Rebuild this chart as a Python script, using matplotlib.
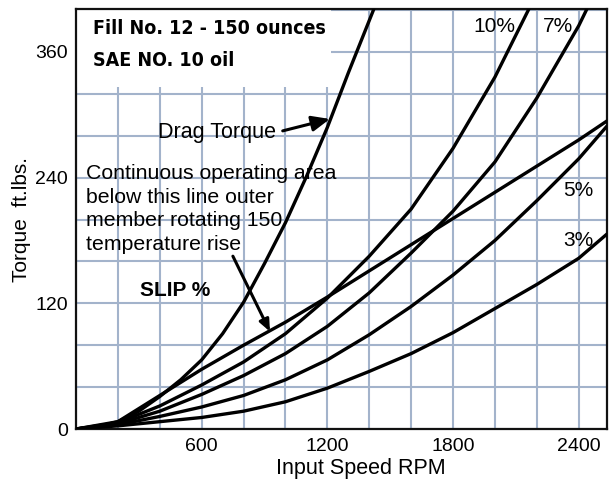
import matplotlib
matplotlib.use('Agg')
import matplotlib.pyplot as plt
from matplotlib import font_manager as fm
from matplotlib.ticker import MultipleLocator, FixedLocator
from matplotlib.patches import Rectangle

# ---------------- data ----------------
drag_rpm = [0, 100, 200, 300, 400, 500, 600, 700, 800, 900, 1000, 1100, 1200, 1300, 1422]
drag_torque = [0, 2, 7, 17, 31, 47, 66, 91, 121, 158, 197, 241, 288, 340, 401]

cont_rpm = [0, 200, 400, 600, 800, 1000, 1200, 1400, 1600, 1800, 2000, 2200, 2400, 2534]
cont_torque = [0, 7, 32, 57, 80, 102, 126, 151, 176, 201, 226, 251, 276, 294]

slip10_rpm = [0, 200, 400, 600, 800, 1000, 1200, 1400, 1600, 1800, 2000, 2162]
slip10_torque = [0, 6, 22, 42, 64, 91, 125, 165, 210, 268, 336, 401]

slip7_rpm = [0, 200, 400, 600, 800, 1000, 1200, 1400, 1600, 1800, 2000, 2200, 2400, 2439]
slip7_torque = [0, 5, 17, 33, 51, 72, 98, 130, 168, 208, 255, 316, 385, 401]

slip5_rpm = [0, 200, 400, 600, 800, 1000, 1200, 1400, 1600, 1800, 2000, 2200, 2400, 2534]
slip5_torque = [0, 4, 12, 21, 32, 47, 66, 90, 117, 147, 180, 218, 258, 289]

slip3_rpm = [0, 200, 400, 600, 800, 1000, 1200, 1400, 1600, 1800, 2000, 2200, 2400, 2534]
slip3_torque = [0, 3, 7, 11, 17, 26, 39, 55, 72, 92, 115, 138, 163, 186]

x_ticks = [600, 1200, 1800, 2400]
y_ticks = [0, 120, 240, 360]

# ---------------- figure ----------------
plt.rcParams['font.family'] = ['Liberation Sans', 'DejaVu Sans']

# look for an installed condensed/narrow bold face for the title block
cond_file = None
for f in fm.fontManager.ttflist:
    nm = f.name.lower()
    is_cond = ('narrow' in nm or 'condensed' in nm or
               str(f.stretch) in ('condensed', 'semi-condensed', 'extra-condensed'))
    w = f.weight
    is_bold = (w == 'bold') or (isinstance(w, int) and w >= 600)
    if is_cond and is_bold and f.style == 'normal':
        cond_file = f.fname
        break
if cond_file:
    title_fp = fm.FontProperties(fname=cond_file, size=14)
else:
    title_fp = fm.FontProperties(family='Liberation Sans', weight='bold', size=14)

fig = plt.figure(figsize=(6.13, 4.79), dpi=100)
ax = fig.add_axes([76/613, 50/479, 531/613, 420/479])
ax.set_xlim(0, 2535)
ax.set_ylim(0, 401)

gridc = '#a3b3cb'
ax.xaxis.set_major_locator(FixedLocator(x_ticks))
ax.yaxis.set_major_locator(FixedLocator(y_ticks))
ax.xaxis.set_minor_locator(MultipleLocator(200))
ax.yaxis.set_minor_locator(MultipleLocator(40))
ax.grid(which='both', color=gridc, lw=1.5)
ax.set_axisbelow(True)
for t in ax.xaxis.get_major_ticks():
    if abs(t.get_loc() - 2400) < 1:
        t.gridline.set_color('#aadff5')
ax.tick_params(which='both', length=0, labelsize=14, colors='black')
ax.tick_params(axis='x', pad=6.5)
ax.tick_params(axis='y', pad=6)
for s in ax.spines.values():
    s.set_linewidth(1.6)
    s.set_color('#111111')

# white panel behind the title (hides grid)
ax.add_patch(Rectangle((0, 327), 1217, 80, facecolor='white', edgecolor='none', zorder=1))

lw = 2.4
for xs, ys in [(drag_rpm, drag_torque), (cont_rpm, cont_torque), (slip10_rpm, slip10_torque),
               (slip7_rpm, slip7_torque), (slip5_rpm, slip5_torque), (slip3_rpm, slip3_torque)]:
    ax.plot(xs, ys, color='black', lw=lw, solid_joinstyle='round', solid_capstyle='round', zorder=3)

ax.text(81, 382, 'Fill No. 12 - 150 ounces', fontproperties=title_fp,
        ha='left', va='center', zorder=4)
ax.text(81, 352, 'SAE NO. 10 oil', fontproperties=title_fp,
        ha='left', va='center', zorder=4)

ax.annotate('Drag Torque', xy=(1212, 296), xytext=(391, 283), fontsize=15.5,
            ha='left', va='center', zorder=4,
            arrowprops=dict(arrowstyle='-|>,head_length=0.7,head_width=0.3', color='black',
                            lw=2.2, relpos=(1, 0.5), shrinkA=3, shrinkB=0))

ax.text(48, 253, 'Continuous operating area\nbelow this line outer\nmember rotating 150\ntemperature rise',
        fontsize=15.3, ha='left', va='top', linespacing=1.31, zorder=4)
ax.annotate('', xy=(926, 93), xytext=(749, 165),
            arrowprops=dict(arrowstyle='-|>,head_length=0.7,head_width=0.3', color='black',
                            lw=2.2, shrinkA=0, shrinkB=0), zorder=4)

ax.text(305, 132, 'SLIP %', fontsize=15, fontweight='bold', ha='left', va='center', zorder=4)
ax.text(1995, 384, '10%', fontsize=15, ha='center', va='center', zorder=4)
ax.text(2300, 384, '7%', fontsize=15, ha='center', va='center', zorder=4)
ax.text(2396, 228, '5%', fontsize=15, ha='center', va='center', zorder=4)
ax.text(2396, 180, '3%', fontsize=15, ha='center', va='center', zorder=4)

ax.set_xlabel('Input Speed RPM', fontsize=15.5)
ax.xaxis.set_label_coords(0.537, -0.068)
ax.set_ylabel('Torque  ft.lbs.', fontsize=15)
ax.yaxis.set_label_coords(-0.085, 0.5)

fig.savefig('out.png', dpi=100)
